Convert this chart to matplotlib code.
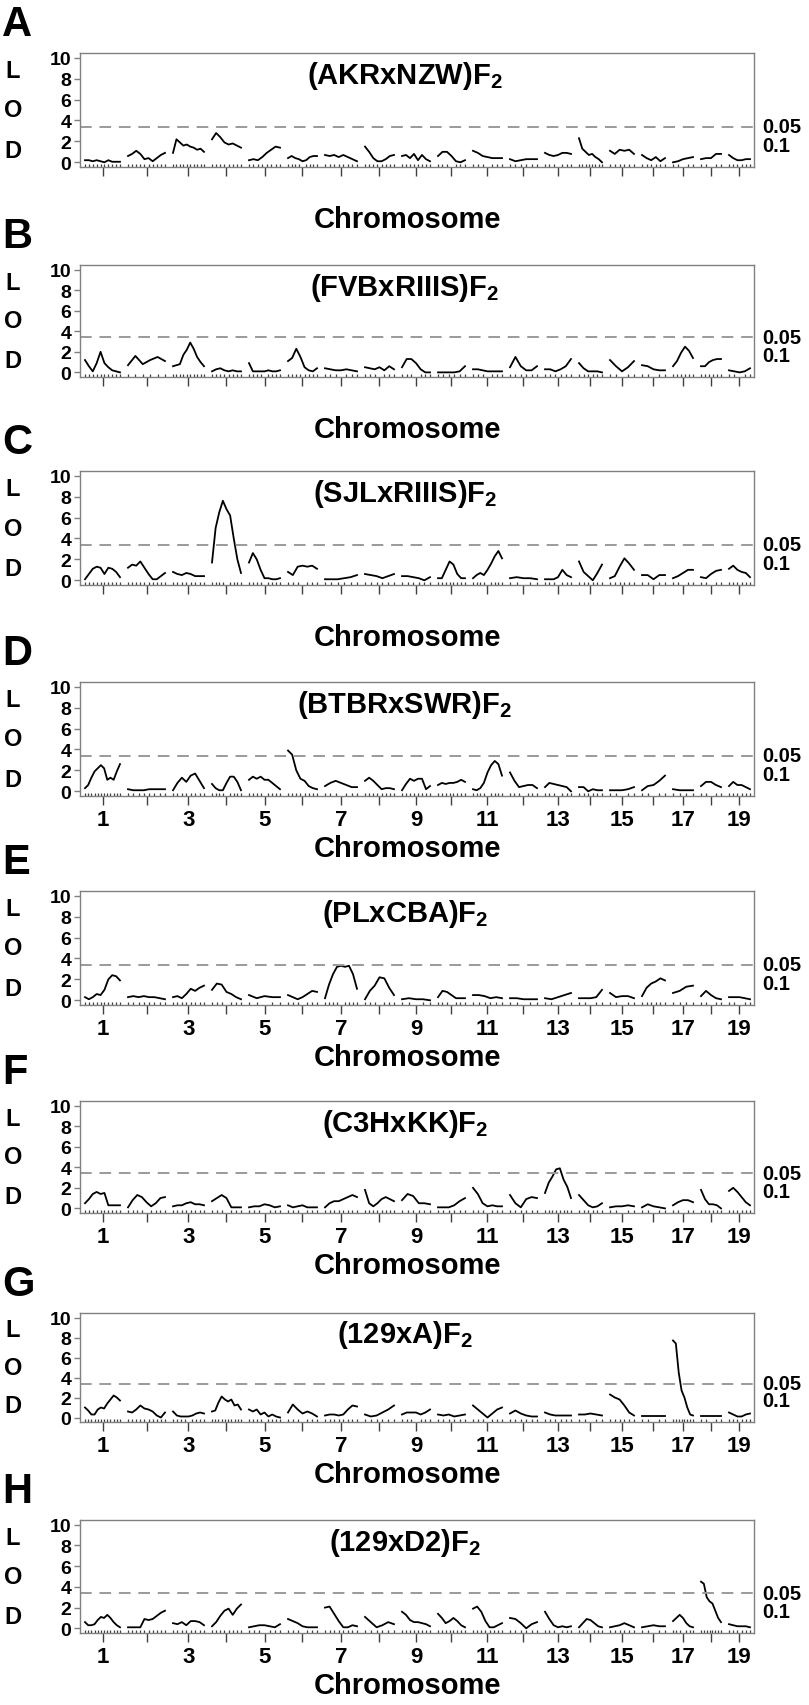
import numpy as np
import matplotlib.pyplot as plt
from matplotlib import transforms

plt.rcParams["font.family"] = ["Liberation Sans", "DejaVu Sans"]
plt.rcParams["font.weight"] = "bold"
plt.rcParams["mathtext.fontset"] = "custom"
plt.rcParams["mathtext.rm"] = "Liberation Sans:bold"
plt.rcParams["mathtext.default"] = "rm"

# chromosome lengths (cM) and gap between chromosomes on the axis
chrom_len = [105, 111, 93, 87, 93, 87, 96, 87, 84, 81, 87, 81, 78, 69, 72, 69, 60, 60, 63]
chrom_gap = 24
chrom_labels = [str(i) if i % 2 else "" for i in range(1, 20)]

panel_letters = ["A", "B", "C", "D", "E", "F", "G", "H"]
cross_names = ["(AKRxNZW)F$_2$", "(FVBxRIIIS)F$_2$", "(SJLxRIIIS)F$_2$", "(BTBRxSWR)F$_2$",
               "(PLxCBA)F$_2$", "(C3HxKK)F$_2$", "(129xA)F$_2$", "(129xD2)F$_2$"]
show_numbers = [False, False, False, True, True, True, True, True]
thr_05 = 3.4
thr_10 = 1.65

# LOD scores along each chromosome (1..19)
lod_A = [
    [0.2, 0.2, 0.1, 0.2, 0.1, 0.0, 0.2, 0.05, 0.05, 0.05],
    [0.6, 0.8, 1.1, 0.8, 0.3, 0.4, 0.1, 0.4, 0.7, 0.9],
    [0.9, 2.2, 1.9, 1.6, 1.7, 1.5, 1.4, 1.2, 1.3, 1.0],
    [2.2, 2.8, 2.4, 1.9, 1.7, 1.8, 1.6, 1.4],
    [0.2, 0.3, 0.2, 0.5, 0.9, 1.2, 1.5, 1.4],
    [0.4, 0.6, 0.4, 0.3, 0.1, 0.2, 0.5, 0.6, 0.6],
    [0.7, 0.6, 0.7, 0.5, 0.7, 0.5, 0.3, 0.1],
    [1.5, 1.0, 0.4, 0.1, 0.1, 0.3, 0.6, 0.7],
    [0.6, 0.7, 0.4, 0.8, 0.2, 0.7, 0.3, 0.1],
    [0.6, 1.0, 1.0, 0.6, 0.1, 0.0, 0.2],
    [1.1, 0.9, 0.6, 0.5, 0.4, 0.4, 0.4],
    [0.3, 0.1, 0.2, 0.3, 0.3, 0.3],
    [0.9, 0.7, 0.6, 0.7, 0.9, 0.9, 0.8],
    [2.3, 1.3, 1.0, 0.7, 0.8, 0.5, 0.3, 0.0],
    [1.1, 0.8, 1.2, 1.1, 1.2, 0.8],
    [0.7, 0.4, 0.2, 0.5, 0.1, 0.4],
    [0.0, 0.1, 0.3, 0.4, 0.5],
    [0.3, 0.4, 0.4, 0.8, 0.8],
    [0.7, 0.4, 0.2, 0.2, 0.3, 0.3],
]
lod_B = [
    [1.2, 0.6, 0.1, 0.9, 2.0, 0.9, 0.5, 0.2, 0.1, 0.0],
    [0.7, 1.6, 0.8, 1.2, 1.5, 1.1],
    [0.6, 0.7, 0.8, 1.7, 2.2, 2.9, 2.3, 1.5, 1.0, 0.6],
    [0.1, 0.3, 0.4, 0.2, 0.1, 0.2, 0.1, 0.1],
    [0.9, 0.1, 0.1, 0.1, 0.1, 0.2, 0.1, 0.1, 0.2],
    [1.1, 1.4, 2.3, 1.5, 0.5, 0.2, 0.1, 0.4],
    [0.4, 0.3, 0.2, 0.2, 0.3, 0.2, 0.1],
    [0.5, 0.4, 0.3, 0.5, 0.2, 0.6, 0.3],
    [0.5, 1.3, 1.3, 0.9, 0.3, 0.0, 0.0],
    [0.0, 0.0, 0.0, 0.0, 0.1, 0.6],
    [0.3, 0.3, 0.2, 0.1, 0.1, 0.1, 0.1],
    [0.5, 1.5, 0.6, 0.2, 0.2, 0.6],
    [0.3, 0.3, 0.1, 0.3, 0.6, 1.3],
    [0.9, 0.4, 0.1, 0.1, 0.1, 0.0],
    [1.2, 0.6, 0.1, 0.5, 1.1],
    [0.7, 0.6, 0.3, 0.2, 0.2],
    [0.6, 1.1, 1.9, 2.5, 2.1, 1.4],
    [0.6, 0.6, 1.0, 1.2, 1.3, 1.3],
    [0.2, 0.1, 0.0, 0.1, 0.4],
]
lod_C = [
    [0.1, 0.6, 1.1, 1.3, 1.2, 0.6, 1.2, 1.1, 0.8, 0.3],
    [1.2, 1.5, 1.4, 1.8, 1.2, 0.6, 0.1, 0.1, 0.4, 0.7],
    [0.8, 0.6, 0.5, 0.7, 0.6, 0.4, 0.4, 0.4],
    [1.7, 5.0, 6.5, 7.6, 6.8, 6.2, 4.0, 2.0, 0.7],
    [1.7, 2.6, 2.0, 1.0, 0.2, 0.2, 0.1, 0.1, 0.2],
    [0.8, 0.5, 1.3, 1.4, 1.3, 1.4, 1.1],
    [0.1, 0.1, 0.1, 0.2, 0.3, 0.5],
    [0.6, 0.5, 0.4, 0.2, 0.4, 0.6],
    [0.4, 0.4, 0.3, 0.2, 0.0, 0.3],
    [0.2, 0.2, 1.0, 1.8, 1.5, 0.6, 0.2, 0.2],
    [0.2, 0.5, 0.7, 0.5, 1.0, 1.6, 2.3, 2.8, 2.1],
    [0.2, 0.3, 0.2, 0.2, 0.1],
    [0.1, 0.1, 0.1, 0.3, 1.0, 0.5, 0.3],
    [1.8, 0.8, 0.4, 0.0, 0.7, 1.5],
    [0.2, 0.4, 1.3, 2.1, 1.6, 1.0],
    [0.5, 0.5, 0.1, 0.5, 0.5],
    [0.2, 0.4, 0.7, 1.0, 1.0],
    [0.3, 0.2, 0.6, 0.9, 1.0],
    [1.1, 1.4, 1.0, 0.8, 0.7, 0.3],
]
lod_D = [
    [0.3, 0.6, 1.3, 1.9, 2.2, 2.5, 2.2, 1.1, 1.3, 1.1, 1.9, 2.6],
    [0.2, 0.1, 0.1, 0.1, 0.2, 0.2, 0.2, 0.2],
    [0.1, 0.8, 1.3, 0.9, 1.5, 1.7, 1.0, 0.3],
    [0.7, 0.3, 0.1, 0.1, 0.8, 1.4, 1.4, 0.9, 0.1],
    [1.1, 1.4, 1.2, 1.4, 1.1, 1.1, 0.8, 0.5, 0.2],
    [3.9, 3.5, 2.0, 1.2, 1.0, 0.5, 0.3, 0.2],
    [0.5, 0.8, 1.0, 0.8, 0.6, 0.4, 0.4],
    [1.0, 1.3, 1.0, 0.6, 0.2, 0.3, 0.3, 0.2],
    [0.1, 0.7, 1.2, 1.0, 1.2, 1.2, 0.2, 0.5],
    [0.6, 0.8, 0.7, 0.8, 0.8, 0.9, 1.1, 0.9],
    [0.2, 0.1, 0.3, 0.8, 1.8, 2.5, 2.9, 2.6, 1.5],
    [1.8, 1.0, 0.4, 0.5, 0.6, 0.6, 0.3],
    [0.4, 0.8, 0.7, 0.6, 0.5, 0.4, 0.0],
    [0.4, 0.4, 0.0, 0.2, 0.1, 0.1],
    [0.1, 0.1, 0.1, 0.2, 0.4],
    [0.1, 0.5, 0.6, 1.0, 1.5],
    [0.2, 0.1, 0.1, 0.1],
    [0.5, 0.9, 0.9, 0.6, 0.4],
    [0.5, 0.9, 0.6, 0.6, 0.4, 0.2],
]
lod_E = [
    [0.3, 0.1, 0.3, 0.6, 0.5, 1.0, 2.0, 2.4, 2.3, 1.9],
    [0.3, 0.4, 0.3, 0.4, 0.3, 0.3, 0.2, 0.1],
    [0.3, 0.4, 0.2, 0.6, 1.1, 0.9, 1.2, 1.4],
    [1.0, 1.6, 1.5, 0.8, 0.6, 0.3, 0.1],
    [0.5, 0.2, 0.4, 0.3, 0.3],
    [0.5, 0.3, 0.1, 0.3, 0.6, 0.9, 0.8],
    [0.2, 1.5, 2.5, 3.2, 3.3, 3.2, 3.3, 2.5, 1.1],
    [0.1, 0.9, 1.4, 2.2, 2.1, 1.2, 0.5],
    [0.1, 0.2, 0.1, 0.1, 0.0],
    [0.3, 0.9, 0.8, 0.5, 0.2, 0.2, 0.2],
    [0.5, 0.5, 0.4, 0.2, 0.3, 0.2],
    [0.2, 0.2, 0.1, 0.1, 0.1],
    [0.2, 0.1, 0.3, 0.5, 0.7],
    [0.2, 0.2, 0.2, 0.3, 1.0],
    [0.7, 0.3, 0.4, 0.4, 0.2],
    [0.4, 1.2, 1.6, 1.8, 2.1, 1.9],
    [0.7, 0.9, 1.3, 1.4],
    [0.4, 0.9, 0.5, 0.2, 0.1],
    [0.3, 0.3, 0.3, 0.2, 0.1],
]
lod_F = [
    [0.5, 0.9, 1.4, 1.6, 1.4, 1.5, 0.3, 0.3, 0.3, 0.3],
    [0.1, 0.8, 1.3, 1.1, 0.6, 0.2, 0.5, 1.0, 1.1],
    [0.2, 0.3, 0.3, 0.5, 0.6, 0.4, 0.4, 0.3],
    [0.7, 1.0, 1.3, 1.0, 0.1, 0.1, 0.1],
    [0.1, 0.2, 0.2, 0.4, 0.3, 0.1, 0.2],
    [0.3, 0.1, 0.2, 0.3, 0.1, 0.1, 0.1],
    [0.1, 0.5, 0.7, 0.7, 0.9, 1.1, 1.3, 1.1],
    [1.8, 0.5, 0.2, 0.5, 0.9, 1.1, 0.9, 0.7],
    [0.8, 1.4, 1.2, 0.5, 0.5, 0.4],
    [0.1, 0.1, 0.1, 0.3, 0.7, 1.0],
    [2.0, 1.4, 0.5, 0.2, 0.3, 0.2, 0.2],
    [1.3, 0.5, 0.1, 0.9, 1.1, 1.0],
    [1.5, 2.5, 3.1, 3.8, 3.9, 2.8, 2.1, 1.0],
    [1.3, 0.8, 0.3, 0.1, 0.2, 0.5],
    [0.1, 0.2, 0.2, 0.3, 0.2],
    [0.1, 0.4, 0.2, 0.1, 0.0],
    [0.3, 0.6, 0.8, 0.8, 0.6],
    [1.8, 0.9, 0.4, 0.4, 0.3, 0.0],
    [1.7, 2.0, 1.6, 1.1, 0.6, 0.3],
]
lod_G = [
    [1.0, 0.7, 0.3, 0.3, 0.8, 1.0, 0.9, 1.4, 1.8, 2.2, 2.0, 1.7],
    [0.6, 0.5, 0.8, 1.2, 0.9, 0.8, 0.6, 0.2, 0.0, 0.5],
    [0.6, 0.2, 0.1, 0.1, 0.1, 0.2, 0.4, 0.5, 0.4],
    [0.6, 0.7, 1.5, 2.1, 1.8, 1.6, 1.8, 1.2, 1.3, 0.8],
    [0.8, 0.6, 0.8, 0.3, 0.5, 0.1, 0.3, 0.1, 0.0],
    [0.5, 1.3, 0.8, 0.4, 0.6, 0.4, 0.1],
    [0.2, 0.3, 0.3, 0.2, 0.3, 0.8, 1.2, 1.1],
    [0.3, 0.1, 0.2, 0.5, 0.8, 1.2],
    [0.3, 0.5, 0.5, 0.5, 0.3, 0.5, 0.8],
    [0.3, 0.2, 0.3, 0.1, 0.2, 0.3],
    [1.2, 0.8, 0.4, 0.0, 0.4, 0.8, 1.0],
    [0.4, 0.7, 0.4, 0.2, 0.1, 0.1],
    [0.5, 0.3, 0.2, 0.2, 0.2, 0.2],
    [0.3, 0.3, 0.4, 0.3, 0.2],
    [2.3, 2.0, 1.8, 1.2, 0.5, 0.2],
    [0.2, 0.2, 0.2, 0.2, 0.2],
    [7.7, 7.4, 4.5, 2.7, 2.0, 1.0, 0.3, 0.2],
    [0.2, 0.2, 0.2, 0.2, 0.2],
    [0.5, 0.3, 0.1, 0.1, 0.3, 0.4],
]
lod_H = [
    [0.6, 0.3, 0.3, 0.4, 0.8, 1.1, 1.0, 1.3, 1.0, 0.6, 0.3, 0.1],
    [0.1, 0.1, 0.1, 0.1, 0.9, 0.8, 0.9, 1.2, 1.5, 1.7],
    [0.5, 0.4, 0.6, 0.3, 0.7, 0.7, 0.6, 0.3],
    [0.2, 0.6, 1.2, 1.7, 1.9, 1.3, 1.9, 2.3],
    [0.1, 0.2, 0.3, 0.3, 0.2, 0.1, 0.4],
    [0.9, 0.7, 0.5, 0.2, 0.1, 0.1, 0.1],
    [2.0, 2.1, 1.4, 0.7, 0.1, 0.1, 0.3, 0.2],
    [1.1, 0.6, 0.1, 0.3, 0.6, 0.4],
    [1.6, 1.3, 0.8, 0.6, 0.6, 0.5, 0.4, 0.2],
    [1.4, 1.0, 0.5, 0.7, 1.0, 0.7, 0.3, 0.1],
    [1.9, 2.1, 1.6, 0.7, 0.1, 0.1, 0.3, 0.5],
    [1.0, 0.9, 0.5, 0.0, 0.4, 0.6],
    [1.6, 0.9, 0.3, 0.1, 0.2, 0.1, 0.2],
    [0.1, 0.5, 0.9, 0.8, 0.5, 0.2, 0.1],
    [0.1, 0.2, 0.3, 0.5, 0.3, 0.1],
    [0.1, 0.2, 0.3, 0.2, 0.2],
    [0.7, 1.0, 1.3, 1.0, 0.5, 0.2, 0.1],
    [4.5, 4.3, 3.0, 2.6, 2.4, 1.7, 1.0, 0.6],
    [0.4, 0.3, 0.2, 0.2, 0.2, 0.1],
]
all_lods = [lod_A, lod_B, lod_C, lod_D, lod_E, lod_F, lod_G, lod_H]

# panel frame top / bottom in pixels from the top of the figure
panel_top = [54, 266, 472, 683, 892, 1102, 1314, 1521]
panel_bot = [168, 378, 586, 797, 1006, 1214, 1423, 1634]

W, H = 809, 1706
fig = plt.figure(figsize=(W / 100, H / 100), dpi=100)

starts = np.concatenate([[0], np.cumsum(np.array(chrom_len) + chrom_gap)[:-1]])
centers = starts + np.array(chrom_len) / 2.0
frame_gray = "#808080"

for k in range(8):
    top, bot = panel_top[k], panel_bot[k]
    ax = fig.add_axes([80 / W, 1 - bot / H, 674 / W, (bot - top) / H])

    minor_pos = []
    for c, vals in enumerate(all_lods[k]):
        x = starts[c] + np.linspace(0, chrom_len[c], len(vals))
        ax.plot(x, vals, color="black", lw=1.3, solid_joinstyle="round")
        minor_pos.extend(x)

    ax.axhline(thr_05, color="#9a9a9a", lw=1.4, ls=(0, (6, 4)))
    ax.set_xlim(-15, 2007)
    ax.set_ylim(-0.45, 10.45)

    for s in ax.spines.values():
        s.set_color(frame_gray)
        s.set_linewidth(1.0)

    ax.set_yticks([0, 2, 4, 6, 8, 10])
    ax.tick_params(axis="y", direction="out", length=4.3, width=1.0,
                   color=frame_gray, labelsize=14, pad=2)
    ax.set_xticks(centers)
    ax.set_xticklabels(chrom_labels if show_numbers[k] else [""] * 19)
    ax.set_xticks(minor_pos, minor=True)
    ax.tick_params(axis="x", which="major", direction="out", length=6.5,
                   width=1.0, color="#404040", labelsize=16, pad=3)
    ax.tick_params(axis="x", which="minor", direction="in", length=2.2,
                   width=0.9, color="#404040")
    for lab in ax.get_xticklabels() + ax.get_yticklabels():
        lab.set_fontweight("bold")

    trans = transforms.blended_transform_factory(ax.transAxes, ax.transData)
    ax.text(0.482, 8.35, cross_names[k], transform=trans, ha="center",
            va="center", fontsize=21, fontweight="bold")
    ax.text(1.012, thr_05, "0.05", transform=trans, ha="left", va="center",
            fontsize=14.5, fontweight="bold", clip_on=False)
    ax.text(1.012, thr_10, "0.1", transform=trans, ha="left", va="center",
            fontsize=14.5, fontweight="bold", clip_on=False)

    ftrans = transforms.blended_transform_factory(fig.transFigure, ax.transData)
    for letter, yv in zip("LOD", [8.75, 5.0, 1.15]):
        ax.text(13 / W, yv, letter, transform=ftrans, ha="center", va="center",
                fontsize=17, fontweight="bold", clip_on=False)

    fig.text(2 / W, 1 - (top - 29) / H, panel_letters[k], ha="left",
             va="center", fontsize=30, fontweight="bold")
    fig.text(408 / W, 1 - (bot + 52) / H, "Chromosome", ha="center",
             va="center", fontsize=21, fontweight="bold")

fig.savefig("out.png", dpi=100)
